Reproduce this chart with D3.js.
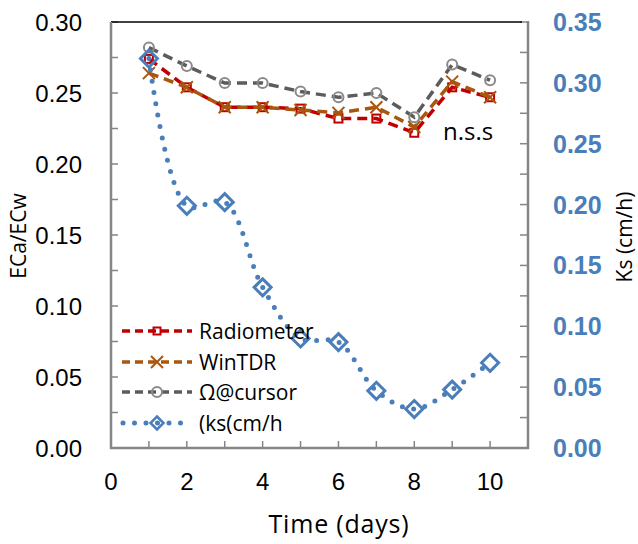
<!DOCTYPE html>
<html><head><meta charset="utf-8">
<script src="https://cdn.jsdelivr.net/npm/d3@7"></script>
<style>body{margin:0;background:#fff}svg{display:block}</style>
</head><body><svg id="c" width="638" height="544"></svg>
<script>
const days = [1,2,3,4,5,6,7,8,9,10];
const radiometer = [0.274,0.254,0.240,0.240,0.239,0.232,0.232,0.222,0.254,0.247];
const winTDR = [0.264,0.254,0.240,0.240,0.238,0.236,0.240,0.226,0.258,0.247];
const cursor = [0.282,0.269,0.257,0.257,0.251,0.247,0.250,0.233,0.270,0.259];
const ks = [0.320,0.199,0.202,0.132,0.090,0.087,0.047,0.032,0.048,0.070];
const xTicks = [0,2,4,6,8,10];
const leftTicks = [0,0.05,0.10,0.15,0.20,0.25,0.30];
const rightTicks = [0,0.05,0.10,0.15,0.20,0.25,0.30,0.35];
const legendNames = ["Radiometer","WinTDR","\u03A9@cursor","(ks(cm/h"];

const svg = d3.select("#c");
const L=111,R=528,T=22,B=448;
const x = d3.scaleLinear().domain([0,11]).range([L,R]);
const yL = d3.scaleLinear().domain([0,0.30]).range([B,T]);
const yR = d3.scaleLinear().domain([0,0.35]).range([B,T]);
const axisCol="#858585";

// ticks
const gAx = svg.append("g");
gAx.selectAll(".tl").data(d3.range(0,0.3001,0.025)).enter().append("line")
  .attr("x1",L).attr("x2",L+7).attr("y1",d=>yL(d)).attr("y2",d=>yL(d)).attr("stroke",axisCol).attr("stroke-width",1.5);
gAx.selectAll(".tr").data(d3.range(0,0.3501,0.025)).enter().append("line")
  .attr("x1",R-8).attr("x2",R).attr("y1",d=>yR(d)).attr("y2",d=>yR(d)).attr("stroke",axisCol).attr("stroke-width",1.5);
gAx.selectAll(".tx").data(d3.range(0,12,1)).enter().append("line")
  .attr("x1",d=>x(d)).attr("x2",d=>x(d)).attr("y1",B).attr("y2",B-7).attr("stroke",axisCol).attr("stroke-width",1.5);
// top border
svg.append("line").attr("x1",L).attr("x2",R-6).attr("y1",T).attr("y2",T).attr("stroke","#000").attr("stroke-width",1.5);
// axes lines
svg.append("line").attr("x1",L).attr("x2",L).attr("y1",T).attr("y2",B+1).attr("stroke",axisCol).attr("stroke-width",2.5);
svg.append("line").attr("x1",R).attr("x2",R).attr("y1",T-1).attr("y2",B+1).attr("stroke",axisCol).attr("stroke-width",2.5);
svg.append("line").attr("x1",L-1).attr("x2",R+1).attr("y1",B).attr("y2",B).attr("stroke",axisCol).attr("stroke-width",2.5);

// labels
svg.selectAll(".ll").data(leftTicks).enter().append("text")
  .attr("x",82).attr("y",d=>yL(d)).attr("dy","0.36em").attr("text-anchor","end")
  .attr("font-family","Liberation Sans, Arial").attr("font-size",24).attr("fill","#000")
  .text(d=>d.toFixed(2));
svg.selectAll(".rl").data(rightTicks).enter().append("text")
  .attr("x",553).attr("y",d=>yR(d)).attr("dy","0.36em").attr("text-anchor","start")
  .attr("font-family","Liberation Sans, Arial").attr("font-weight","bold").attr("font-size",25).attr("fill","#4a7ebb")
  .text(d=>d.toFixed(2));
svg.selectAll(".xl").data(xTicks).enter().append("text")
  .attr("x",d=>x(d)).attr("y",490).attr("text-anchor","middle")
  .attr("font-family","Liberation Sans, Arial").attr("font-size",24).attr("fill","#000")
  .text(d=>d);

const tf = "Open Sans, Noto Sans, sans-serif";
svg.append("text").attr("transform","translate(26,236) rotate(-90)").attr("text-anchor","middle")
  .attr("font-family",tf).attr("font-size",21).text("ECa/ECw");
svg.append("text").attr("transform","translate(632,237) rotate(-90)").attr("text-anchor","middle")
  .attr("font-family",tf).attr("font-size",21).text("Ks (cm/h)");
svg.append("text").attr("x",339).attr("y",533).attr("text-anchor","middle")
  .attr("font-family",tf).attr("font-size",25).attr("letter-spacing",0.8).text("Time (days)");
svg.append("text").attr("x",443).attr("y",140)
  .attr("font-family",tf).attr("font-size",24).text("n.s.s");

// series
const red="#c00000", brown="#a9560e", gray="#5c5c5c", blue="#4a7ebb";
function dashed(data,col){
  svg.append("path").datum(data).attr("fill","none").attr("stroke",col).attr("stroke-width",3.5)
    .attr("stroke-dasharray","10 6")
    .attr("d",d3.line().x((d,i)=>x(days[i])).y(d=>yL(d)));
}
function sqMarker(g,cx,cy,s){g.append("rect").attr("x",cx-s/2).attr("y",cy-s/2).attr("width",s).attr("height",s).attr("fill","none").attr("stroke",red).attr("stroke-width",2);}
function xMarker(g,cx,cy,s){g.append("path").attr("d",`M${cx-s},${cy-s}L${cx+s},${cy+s}M${cx-s},${cy+s}L${cx+s},${cy-s}`).attr("stroke",brown).attr("stroke-width",2);}
function cMarker(g,cx,cy,r){g.append("circle").attr("cx",cx).attr("cy",cy).attr("r",r).attr("fill","none").attr("stroke","#8a8a8a").attr("stroke-width",2);}
function dMarker(g,cx,cy,r,w){g.append("path").attr("d",`M${cx},${cy-r}L${cx+r},${cy}L${cx},${cy+r}L${cx-r},${cy}Z`).attr("fill","none").attr("stroke",blue).attr("stroke-width",w);}

dashed(radiometer,red);
radiometer.forEach((v,i)=>sqMarker(svg,x(days[i]),yL(v),8));
dashed(winTDR,brown);
winTDR.forEach((v,i)=>xMarker(svg,x(days[i]),yL(v),6));
dashed(cursor,gray);
cursor.forEach((v,i)=>cMarker(svg,x(days[i]),yL(v),5));

svg.append("path").datum(ks).attr("fill","none").attr("stroke",blue).attr("stroke-width",5)
  .attr("stroke-linecap","round").attr("stroke-dasharray","0 11.5")
  .attr("d",d3.line().curve(d3.curveCatmullRom.alpha(0.5)).x((d,i)=>x(days[i])).y(d=>yR(d)));
ks.forEach((v,i)=>dMarker(svg,x(days[i]),yR(v),8.5,3));

// legend
const ly=[331,362,392,423];
const lg = svg.append("g");
[[red,"10 6"],[brown,"10 6"],[gray,"10 6"]].forEach((s,i)=>{
  lg.append("line").attr("x1",122).attr("x2",192).attr("y1",ly[i]).attr("y2",ly[i]).attr("stroke",s[0]).attr("stroke-width",3.5).attr("stroke-dasharray","8 5");
});
sqMarker(lg,157,ly[0],7);
xMarker(lg,157,ly[1],6);
cMarker(lg,157,ly[2],5);
lg.append("line").attr("x1",123).attr("x2",192).attr("y1",ly[3]).attr("y2",ly[3]).attr("stroke",blue).attr("stroke-width",5).attr("stroke-linecap","round").attr("stroke-dasharray","0 11.5");
dMarker(lg,157,ly[3],6.5,2.5);
legendNames.forEach((n,i)=>{
  lg.append("text").attr("x",199).attr("y",ly[i]).attr("dy","0.36em").attr("font-family",tf).attr("font-size",21).text(n);
});
</script></body></html>
